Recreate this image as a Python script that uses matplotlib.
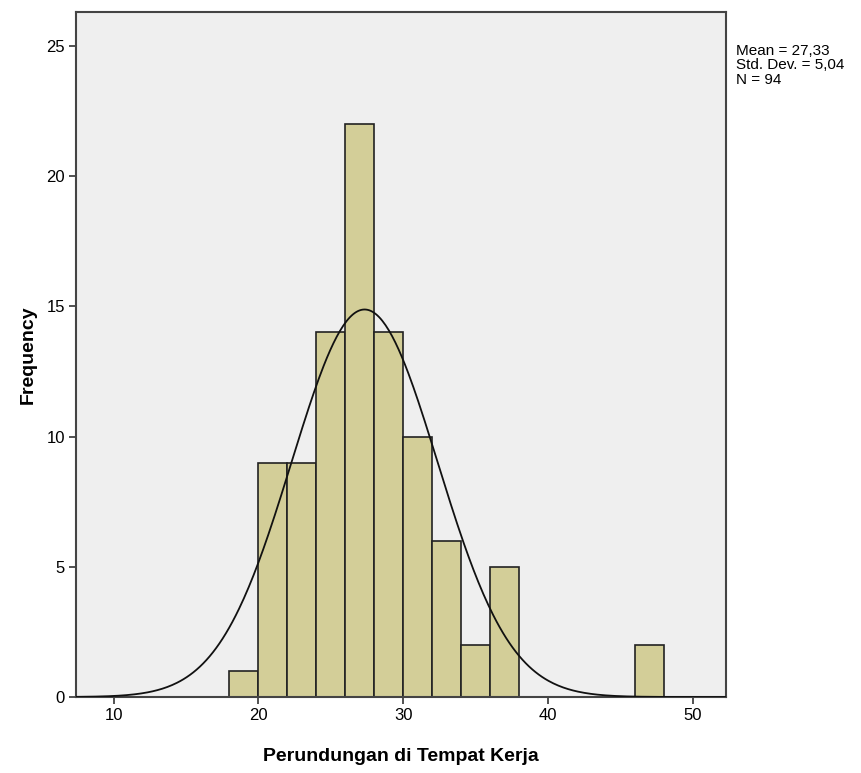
import numpy as np
import matplotlib
matplotlib.use("Agg")
import matplotlib.pyplot as plt

# histogram data (bin width 2)
bin_edges = [18, 20, 22, 24, 26, 28, 30, 32, 34, 36, 38, 40, 42, 44, 46, 48]
counts = [1, 9, 9, 14, 22, 14, 10, 6, 2, 5, 0, 0, 0, 0, 2]
mean_val = 27.33
sd_val = 5.04
n_val = 94
x_ticks = [10, 20, 30, 40, 50]
y_ticks = [0, 5, 10, 15, 20, 25]

plt.rcParams['font.family'] = ['Liberation Sans', 'DejaVu Sans']

fig = plt.figure(figsize=(8.61, 7.73), dpi=100)
ax = fig.add_axes([0.0883, 0.0983, 0.755, 0.886])
ax.set_facecolor('#efefef')

widths = np.diff(bin_edges)
ax.bar(bin_edges[:-1], counts, width=widths, align='edge',
       color='#d3ce98', edgecolor='#222222', linewidth=1.2, zorder=2)

# normal curve scaled to counts
xs = np.linspace(7.4, 52.3, 400)
binw = bin_edges[1] - bin_edges[0]
ys = n_val * binw / (sd_val * np.sqrt(2 * np.pi)) * np.exp(-0.5 * ((xs - mean_val) / sd_val) ** 2)
ax.plot(xs, ys, color='#111111', linewidth=1.3, zorder=3)

ax.set_xlim(7.4, 52.3)
ax.set_ylim(0, 26.3)
ax.set_xticks(x_ticks)
ax.set_yticks(y_ticks)
ax.tick_params(axis='both', labelsize=12, color='#333333', length=5, width=1.2, pad=3)
for s in ax.spines.values():
    s.set_color('#444444')
    s.set_linewidth(1.5)

ax.set_xlabel('Perundungan di Tempat Kerja', fontsize=14, fontweight='bold', labelpad=18)
ax.set_ylabel('Frequency', fontsize=14, fontweight='bold', labelpad=7)

stats = 'Mean = %s\nStd. Dev. = %s\nN = %d' % (f'{mean_val:.2f}'.replace('.', ','),
                                                f'{sd_val:.2f}'.replace('.', ','), n_val)
fig.text(0.855, 0.943, stats, fontsize=11, va='top', ha='left', linespacing=1.02)

fig.savefig('out.png', dpi=100, facecolor='white')
